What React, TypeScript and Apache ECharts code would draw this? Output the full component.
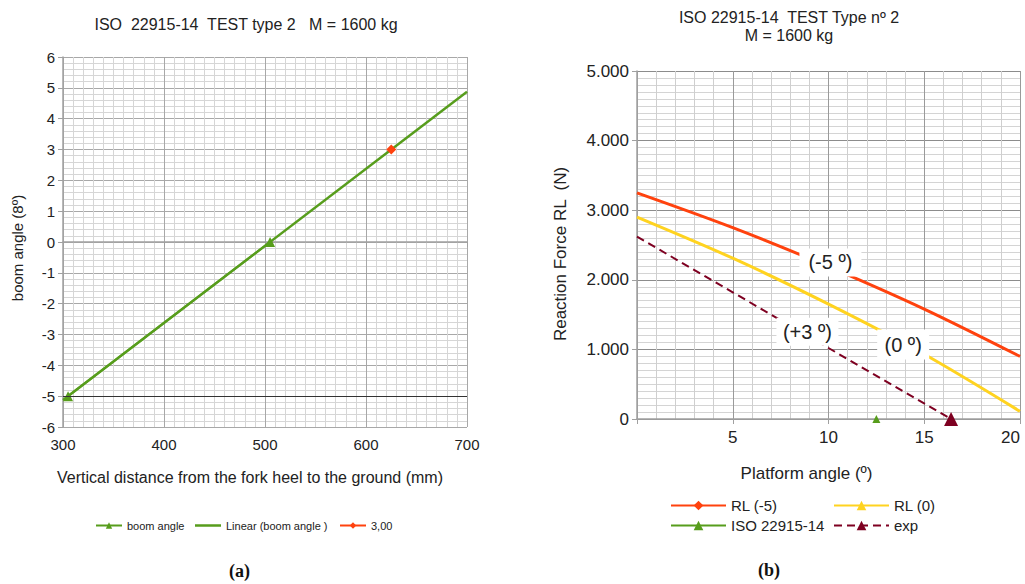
import React, { useEffect, useRef } from "react";
import * as echarts from "echarts";

// ---- Chart (a) data ----
const boomX = [305, 505];
const boomY = [-5, 0];
const trendX = [300, 700];
const trendY = [-5.125, 4.875];
const pointX = [625];
const pointY = [3];

// ---- Chart (b) data ----
const platformAngle = [0, 5, 10, 15, 20];
const rlMinus5 = [3250, 2750, 2190, 1580, 900];
const rlZero = [2900, 2310, 1650, 930, 110];
const expAngle = [0, 5, 10, 16.4];
const expForce = [2620, 1820, 1020, 0];
const isoAngle = [12.5];
const isoForce = [0];

const FONT = "Liberation Sans, Arial, sans-serif";
const TXT = "#222";
const GREEN = "#579d1c";
const ORANGE = "#ff420e";
const YELLOW = "#ffd320";
const MAROON = "#7e0021";

const zip = (a: number[], b: number[]) => a.map((v, i) => [v, b[i]]);

export default function App() {
  const ref = useRef<HTMLDivElement>(null);
  useEffect(() => {
    if (!ref.current) return;
    const chart = echarts.init(ref.current, undefined, { renderer: "svg" });
    const majorLine = { show: true, lineStyle: { color: "#a8a8a8", width: 1 } };
    const minorLine = { show: true, lineStyle: { color: "#d6d6d6", width: 1 } };
    const axisLine = { show: true, lineStyle: { color: "#a0a0a0", width: 1.5 } };
    const tick = { show: true, length: 5, lineStyle: { color: "#a0a0a0" } };
    const expLast = expAngle.length - 1;
    const smallLegend = { fontFamily: FONT, fontSize: 11, color: TXT };
    const bigLegend = { fontFamily: FONT, fontSize: 15, color: TXT };

    chart.setOption({
      animation: false,
      backgroundColor: "#ffffff",
      textStyle: { fontFamily: FONT },
      title: [
        {
          text: "ISO  22915-14  TEST type 2   M = 1600 kg",
          left: 241,
          top: 11,
          textAlign: "center",
          textStyle: { fontFamily: FONT, fontSize: 16, fontWeight: "normal", color: TXT },
        },
        {
          text: "ISO 22915-14  TEST Type nº 2\nM = 1600 kg",
          left: 784,
          top: 3,
          textAlign: "center",
          textStyle: { fontFamily: FONT, fontSize: 16, fontWeight: "normal", color: TXT, lineHeight: 18 },
        },
      ],
      grid: [
        { left: 63, width: 404, top: 57, height: 370, outerBoundsMode: "none" },
        { left: 637, width: 383, top: 71, height: 348, outerBoundsMode: "none" },
      ],
      xAxis: [
        {
          gridIndex: 0,
          type: "value",
          min: 300,
          max: 700,
          interval: 100,
          name: "Vertical distance from the fork heel to the ground (mm)",
          nameLocation: "middle",
          nameGap: 42,
          nameTextStyle: { fontFamily: FONT, fontSize: 16, color: TXT, padding: [0, 30, 0, 0] },
          axisLine,
          axisTick: tick,
          axisLabel: { fontFamily: FONT, fontSize: 15, color: TXT, margin: 10 },
          splitLine: majorLine,
          minorTick: { show: false, splitNumber: 10 },
          minorSplitLine: minorLine,
        },
        {
          gridIndex: 1,
          type: "value",
          min: 0,
          max: 20,
          interval: 5,
          name: "Platform angle (º)",
          nameLocation: "middle",
          nameGap: 46,
          nameTextStyle: { fontFamily: FONT, fontSize: 17, color: TXT, padding: [0, 44, 0, 0] },
          axisLine,
          axisTick: tick,
          axisLabel: {
            fontFamily: FONT,
            fontSize: 17,
            color: TXT,
            margin: 10,
            alignMaxLabel: "right",
            formatter: (v: number) => (v === 0 ? "" : String(v)),
          },
          splitLine: { show: true, lineStyle: { color: "#9a9a9a", width: 1 } },
          minorTick: { show: false, splitNumber: 5 },
          minorSplitLine: { show: true, lineStyle: { color: "#cfcfcf", width: 1 } },
        },
      ],
      yAxis: [
        {
          gridIndex: 0,
          type: "value",
          min: -6,
          max: 6,
          interval: 1,
          name: "boom angle (8º)",
          nameLocation: "middle",
          nameGap: 38,
          nameTextStyle: { fontFamily: FONT, fontSize: 15, color: TXT, padding: [0, 12, 0, 0] },
          axisLine,
          axisTick: tick,
          axisLabel: { fontFamily: FONT, fontSize: 15, color: TXT, margin: 8 },
          splitLine: majorLine,
          minorTick: { show: false, splitNumber: 5 },
          minorSplitLine: minorLine,
        },
        {
          gridIndex: 1,
          type: "value",
          min: 0,
          max: 5000,
          interval: 1000,
          name: "Reaction Force RL  (N)",
          nameLocation: "middle",
          nameGap: 68,
          nameTextStyle: { fontFamily: FONT, fontSize: 17, color: TXT, padding: [0, 18, 0, 0] },
          axisLine,
          axisTick: tick,
          axisLabel: {
            fontFamily: FONT,
            fontSize: 17,
            color: TXT,
            margin: 8,
            formatter: (v: number) => (v === 0 ? "0" : (v / 1000).toFixed(3)),
          },
          splitLine: { show: true, lineStyle: { color: "#8c8c8c", width: 1 } },
          minorTick: { show: false, splitNumber: 10 },
          minorSplitLine: { show: true, lineStyle: { color: "#d4d4d4", width: 1 } },
        },
      ],
      legend: [
        {
          data: ["boom angle"],
          left: 90,
          top: 515,
          itemWidth: 26,
          itemHeight: 8,
          textStyle: smallLegend,
        },
        {
          data: [{ name: "Linear (boom angle )", icon: "rect" }],
          left: 190,
          top: 515,
          itemWidth: 26,
          itemHeight: 2.5,
          textStyle: smallLegend,
        },
        {
          data: ["3,00"],
          left: 334,
          top: 515,
          itemWidth: 26,
          itemHeight: 8,
          textStyle: smallLegend,
        },
        {
          data: ["RL (-5)"],
          left: 665,
          top: 493,
          itemWidth: 55,
          itemHeight: 12,
          textStyle: bigLegend,
        },
        {
          data: ["RL (0)"],
          left: 828,
          top: 493,
          itemWidth: 55,
          itemHeight: 12,
          textStyle: bigLegend,
        },
        {
          data: ["ISO 22915-14"],
          left: 665,
          top: 513,
          itemWidth: 55,
          itemHeight: 12,
          textStyle: bigLegend,
        },
        {
          data: ["exp"],
          left: 828,
          top: 513,
          itemWidth: 55,
          itemHeight: 12,
          textStyle: bigLegend,
        },
      ],
      graphic: [
        {
          type: "text",
          left: 229,
          top: 562,
          style: { text: "(a)", font: "bold 18px 'Liberation Serif', serif", fill: "#111" },
        },
        {
          type: "text",
          left: 758,
          top: 561,
          style: { text: "(b)", font: "bold 18px 'Liberation Serif', serif", fill: "#111" },
        },
      ],
      series: [
        {
          name: "Linear (boom angle )",
          type: "line",
          xAxisIndex: 0,
          yAxisIndex: 0,
          data: zip(trendX, trendY),
          showSymbol: false,
          symbol: "none",
          color: GREEN,
          lineStyle: { color: GREEN, width: 2.5 },
          z: 3,
          markLine: {
            silent: true,
            symbol: "none",
            label: { show: false },
            lineStyle: { color: "#333", width: 1, type: "solid" },
            data: [{ yAxis: -5 }],
          },
        },
        {
          name: "boom angle",
          type: "line",
          xAxisIndex: 0,
          yAxisIndex: 0,
          data: zip(boomX, boomY),
          symbol: "triangle",
          symbolSize: 10,
          color: GREEN,
          itemStyle: { color: GREEN },
          lineStyle: { color: GREEN, width: 2 },
          z: 4,
        },
        {
          name: "3,00",
          type: "line",
          xAxisIndex: 0,
          yAxisIndex: 0,
          data: zip(pointX, pointY),
          symbol: "diamond",
          symbolSize: 10,
          color: ORANGE,
          itemStyle: { color: ORANGE },
          lineStyle: { color: ORANGE, width: 2 },
          z: 5,
        },
        {
          name: "RL (-5)",
          type: "line",
          xAxisIndex: 1,
          yAxisIndex: 1,
          data: zip(platformAngle, rlMinus5),
          smooth: 0.3,
          symbol: "diamond",
          symbolSize: 0,
          color: ORANGE,
          itemStyle: { color: ORANGE },
          lineStyle: { color: ORANGE, width: 3 },
          z: 3,
        },
        {
          name: "RL (0)",
          type: "line",
          xAxisIndex: 1,
          yAxisIndex: 1,
          data: zip(platformAngle, rlZero),
          smooth: 0.3,
          symbol: "triangle",
          symbolSize: 0,
          color: YELLOW,
          itemStyle: { color: YELLOW },
          lineStyle: { color: YELLOW, width: 3 },
          z: 3,
        },
        {
          name: "ISO 22915-14",
          type: "line",
          xAxisIndex: 1,
          yAxisIndex: 1,
          data: zip(isoAngle, isoForce),
          symbol: "triangle",
          symbolSize: 8,
          color: GREEN,
          itemStyle: { color: GREEN },
          lineStyle: { color: GREEN, width: 3.5 },
          z: 4,
        },
        {
          name: "exp",
          type: "line",
          xAxisIndex: 1,
          yAxisIndex: 1,
          data: zip(expAngle, expForce),
          symbol: "triangle",
          symbolSize: (_v: any, p: any) => (p && p.dataIndex === expLast ? 14 : 0),
          color: MAROON,
          itemStyle: { color: MAROON },
          lineStyle: { color: MAROON, width: 2, type: [8, 5] },
          z: 3,
        },
        {
          name: "labels",
          type: "scatter",
          xAxisIndex: 1,
          yAxisIndex: 1,
          data: [],
          z: 10,
          markPoint: {
            silent: true,
            symbol: "rect",
            itemStyle: { color: "#ffffff" },
            label: {
              show: true,
              position: "inside",
              fontFamily: FONT,
              fontSize: 20,
              color: "#222",
            },
            data: [
              { coord: [10.1, 2250], symbolSize: [62, 28], label: { formatter: "(-5 º)" } },
              { coord: [8.9, 1254], symbolSize: [62, 28], label: { formatter: "(+3 º)" } },
              { coord: [13.9, 1069], symbolSize: [52, 30], label: { formatter: "(0 º)" } },
            ],
          },
        },
      ],
    });
    return () => chart.dispose();
  }, []);
  return (
    <div
      ref={ref}
      style={{ position: "absolute", left: 0, top: 0, width: 1025, height: 584, background: "#fff" }}
    />
  );
}
